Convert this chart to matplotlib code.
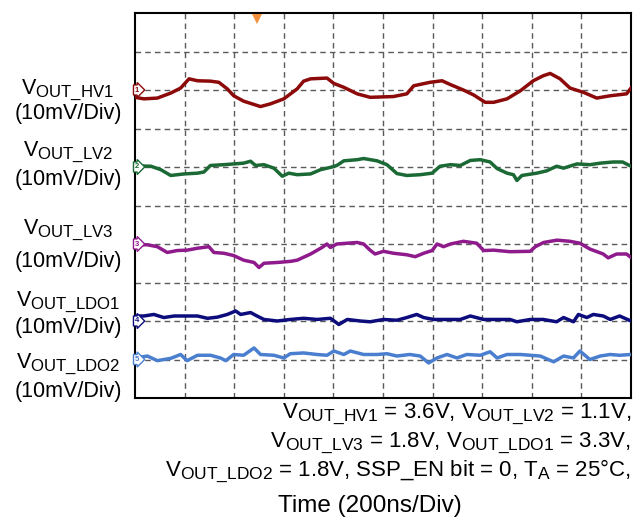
import matplotlib
matplotlib.use("Agg")
import matplotlib.pyplot as plt
import matplotlib._mathtext as mathtext_internal

plt.rcParams['font.family'] = ['Liberation Sans', 'DejaVu Sans']
plt.rcParams['mathtext.fontset'] = 'custom'
plt.rcParams['mathtext.rm'] = 'Liberation Sans'
plt.rcParams['mathtext.it'] = 'Liberation Sans'
# scope-style labels use larger subscripts than the mathtext default
mathtext_internal.SHRINK_FACTOR = 0.78

# ripple traces: time in ns, ripple in mV (10 mV/div, 200 ns/div)
t_hv1 = [0, 36, 90, 144, 184, 218, 252, 304, 338, 372, 398, 438, 506, 546, 600,
         654, 680, 708, 774, 802, 842, 896, 948, 1042, 1096, 1124, 1190, 1238,
         1272, 1324, 1366, 1412, 1446, 1500, 1554, 1606, 1646, 1674, 1714, 1754,
         1808, 1862, 1916, 1982, 2000]
v_hv1 = [-1.9, -2.3, -2.1, -0.8, 0.5, 2.9, 2.4, 2.3, 2.0, 0.3, -1.5, -2.9, -4.3,
         -3.6, -2.3, 0.3, 2.3, 2.9, 3.1, 1.7, 0.7, -1.0, -1.9, -1.7, -1.0, 1.1,
         2.0, 2.4, 1.4, 0.0, -1.3, -3.2, -3.2, -2.3, -0.2, 2.4, 3.7, 4.3, 2.9,
         0.5, -0.6, -2.1, -1.5, -1.0, 0.5]

t_lv2 = [0, 64, 104, 144, 198, 252, 278, 304, 358, 398, 438, 466, 486, 520, 560,
         594, 620, 654, 708, 748, 788, 814, 842, 896, 922, 976, 1016, 1056, 1096,
         1150, 1198, 1230, 1272, 1312, 1352, 1392, 1432, 1460, 1500, 1526, 1540,
         1560, 1620, 1660, 1700, 1728, 1782, 1834, 1876, 1928, 1966, 2000]
v_lv2 = [0.3, 0.2, -0.7, -2.2, -1.8, -1.6, -1.3, 0.4, 0.6, 0.8, 1.0, 1.5, 0.4,
         0.6, -0.3, -2.4, -1.6, -2.0, -1.8, -0.7, -0.1, 0.4, 1.6, 1.9, 2.2, 1.6,
         0.6, -1.7, -2.2, -2.0, -1.6, 0.2, 0.6, 0.4, 1.7, 1.9, 1.3, -0.4, -1.6,
         -2.0, -3.5, -2.2, -1.6, -1.0, 0.2, -0.3, 0.8, 0.6, 1.0, 1.3, 1.3, 0.2]

t_lv3 = [0, 50, 90, 130, 170, 210, 252, 298, 318, 358, 398, 438, 480, 500, 520,
         574, 628, 654, 708, 754, 774, 788, 814, 896, 922, 948, 968, 1002, 1042,
         1096, 1130, 1164, 1198, 1218, 1244, 1272, 1324, 1378, 1406, 1446, 1512,
         1594, 1614, 1648, 1702, 1754, 1794, 1834, 1888, 1908, 1942, 1982, 2000]
v_lv3 = [-0.2, -0.2, -0.7, -2.2, -1.7, -1.6, -1.1, -0.7, -2.2, -2.4, -3.0, -4.2,
         -4.8, -6.1, -5.0, -4.8, -4.5, -4.2, -2.6, -0.9, 0.0, -0.9, 0.0, 0.4, 0.0,
         -1.6, -2.6, -1.9, -2.4, -2.8, -3.3, -2.4, -1.7, 0.0, -0.7, 0.0, 0.7, 0.2,
         -1.7, -1.6, -2.0, -1.9, -0.7, 0.4, 1.0, 0.7, 0.2, -1.3, -2.6, -3.6, -2.6,
         -2.6, -3.5]

t_ldo1 = [0, 36, 76, 116, 158, 198, 252, 292, 332, 372, 406, 426, 466, 492, 520,
          574, 626, 680, 734, 788, 822, 856, 908, 948, 1002, 1056, 1096, 1136,
          1164, 1204, 1258, 1312, 1352, 1406, 1460, 1512, 1540, 1594, 1646, 1700,
          1728, 1768, 1788, 1822, 1848, 1888, 1916, 1954, 2000]
v_ldo1 = [1.3, 1.3, 1.7, 0.9, 1.3, 1.3, 1.3, 0.7, 1.0, 1.7, 2.6, 1.7, 2.2, 1.3,
          0.4, 0.0, 0.4, 0.7, 0.4, 0.7, -0.9, 0.4, 0.0, -0.2, 0.4, 0.2, 0.9, 1.7,
          0.9, 0.4, 0.4, 0.4, 1.3, 0.4, 0.4, 0.4, -0.2, 0.4, 0.4, -0.2, 0.9, -0.2,
          1.7, 0.9, 1.7, 1.3, 0.4, 1.3, 0.0]

t_ldo2 = [0, 50, 90, 144, 184, 210, 252, 304, 344, 366, 398, 438, 480, 506, 560,
          600, 626, 680, 734, 774, 802, 842, 868, 922, 976, 1016, 1056, 1108,
          1150, 1184, 1218, 1258, 1298, 1338, 1392, 1432, 1460, 1500, 1554, 1594,
          1634, 1688, 1728, 1768, 1794, 1834, 1876, 1916, 1954, 2000]
v_ldo2 = [0.4, 0.9, -0.3, 0.3, 1.3, -0.3, 1.1, 1.1, 0.4, -0.3, 1.3, 1.1, 3.0,
          1.3, 1.1, 0.4, 1.5, 1.7, 1.3, 1.1, 2.2, 1.3, 2.2, 1.3, 1.3, 1.5, 0.9,
          1.3, 0.9, -0.9, 0.4, 1.3, 0.4, 1.3, 1.1, 2.0, 0.4, 1.3, 1.3, 1.1, 0.9,
          -0.6, 0.9, 0.4, 2.2, 0.0, 0.9, 1.3, 1.1, 1.3]

channels = [
    ("1", t_hv1, v_hv1, 8, "#8c0a0a"),
    ("2", t_lv2, v_lv2, 6, "#1b6a35"),
    ("3", t_lv3, v_lv3, 4, "#8e1a8c"),
    ("4", t_ldo1, v_ldo1, 2, "#0c0c7c"),
    ("5", t_ldo2, v_ldo2, 1, "#4a7fd0"),
]

side_labels = [
    (r"V$_{\mathrm{OUT\_HV1}}$", 93, 113),
    (r"V$_{\mathrm{OUT\_LV2}}$", 155, 180),
    (r"V$_{\mathrm{OUT\_LV3}}$", 233, 262),
    (r"V$_{\mathrm{OUT\_LDO1}}$", 305, 327),
    (r"V$_{\mathrm{OUT\_LDO2}}$", 367, 391),
]

cond = [
    r"V$_{\mathrm{OUT\_HV1}}$ = 3.6V, V$_{\mathrm{OUT\_LV2}}$ = 1.1V,",
    r"V$_{\mathrm{OUT\_LV3}}$ = 1.8V, V$_{\mathrm{OUT\_LDO1}}$ = 3.3V,",
    r"V$_{\mathrm{OUT\_LDO2}}$ = 1.8V, SSP_EN bit = 0, T$_{\mathrm{A}}$ = 25°C,",
]
cond_base = [417, 446, 475]

W, H = 643, 523
fig = plt.figure(figsize=(W / 100, H / 100), dpi=100)
ax = fig.add_axes([135 / W, 1 - 398 / H, 496 / W, 385 / H])
ax.set_xlim(0, 10)
ax.set_ylim(0, 10)

# scope graticule
for k in range(1, 10):
    ax.axvline(k, color="#5a5a5a", lw=1.0, ls=(0, (4, 3)), zorder=1)
    ax.axhline(k, color="#5a5a5a", lw=1.0, ls=(0, (4, 3)), zorder=1)

for tag, t, v, ref, col in channels:
    x = [ti / 200 for ti in t]
    y = [ref + vi / 10 for vi in v]
    ax.plot(x, y, color=col, lw=2.5, zorder=3, solid_joinstyle="round")
    ax.text(0.0, ref, tag, color=col, fontsize=5.5, ha="left", va="center",
            zorder=5, fontweight="bold",
            bbox=dict(boxstyle="rarrow,pad=0.2", fc="white", ec=col, lw=1.0))

# trigger position marker
ax.plot([2.45], [9.85], marker="v", color="#f0903c", ms=7, mew=0, zorder=5,
        clip_on=False)

ax.set_xticks([])
ax.set_yticks([])
for s in ax.spines.values():
    s.set_linewidth(1.5)
    s.set_color("black")

for name, y1, y2 in side_labels:
    fig.text(68 / W, 1 - y1 / H, name, fontsize=15.5, ha="center",
             va="baseline")
    fig.text(68 / W, 1 - y2 / H, "(10mV/Div)", fontsize=15.5, ha="center",
             va="center")

for line, yb in zip(cond, cond_base):
    fig.text(631 / W, 1 - yb / H, line, fontsize=16, ha="right",
             va="baseline")

fig.text(370 / W, 1 - 506 / H, "Time (200ns/Div)", fontsize=17.5,
         ha="center", va="center")

fig.savefig("out.png", dpi=100)
